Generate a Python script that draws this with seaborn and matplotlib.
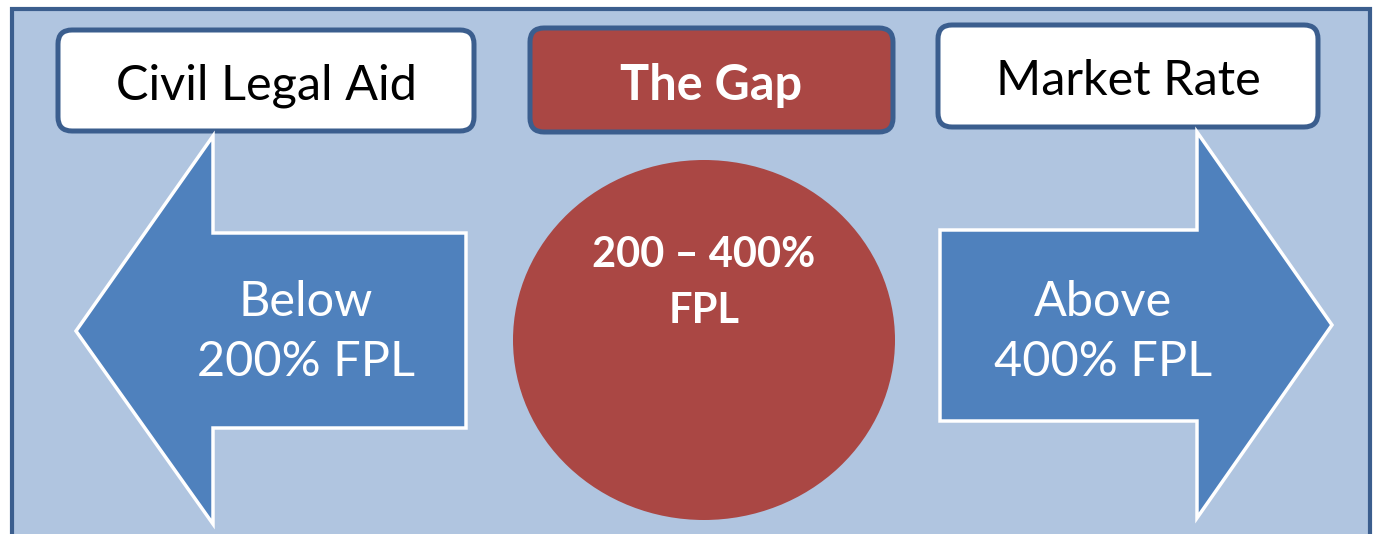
import matplotlib
matplotlib.use("Agg")
import matplotlib.pyplot as plt
import seaborn as sns
from matplotlib.patches import FancyBboxPatch, Polygon, Ellipse, Rectangle

# labels of the diagram
box_labels = ["Civil Legal Aid", "The Gap", "Market Rate"]
arrow_labels = ["Below\n200% FPL", "Above\n400% FPL"]
circle_label = "200 \u2013 400%\nFPL"

bg = "#b0c5e0"
edge = "#3b5e8e"
blue = "#4f81bd"
red = "#aa4744"

sns.set_theme(style="white")
plt.rcParams["font.family"] = ["Lato", "DejaVu Sans"]

fig = plt.figure(figsize=(13.77, 5.34), dpi=100)
ax = fig.add_axes([0, 0, 1, 1])
ax.set_xlim(0, 1377)
ax.set_ylim(534, 0)
ax.axis("off")

# outer frame
ax.add_patch(Rectangle((12, 9), 1358, 540, facecolor=bg, edgecolor=edge, lw=3))

# top boxes
boxes = [(58, 30, 416, 101, "white", "black", "normal"),
         (530, 28, 363, 104, red, "white", "bold"),
         (938, 25, 380, 102, "white", "black", "normal")]
for (x, y, w, h, fc, tc, fw), lab in zip(boxes, box_labels):
    ax.add_patch(FancyBboxPatch((x, y), w, h, boxstyle="round,pad=0,rounding_size=14",
                                facecolor=fc, edgecolor=edge, lw=3.6))
    ax.text(x + w / 2, y + h / 2 + 5, lab, ha="center", va="center",
            fontsize=35, color=tc, fontweight=fw)

# arrows
left = [(76, 331), (213, 136), (213, 233), (466, 233), (466, 428), (213, 428), (213, 524)]
right = [(1332, 325), (1197, 132), (1197, 230), (940, 230), (940, 421), (1197, 421), (1197, 518)]
for pts in (left, right):
    ax.add_patch(Polygon(pts, closed=True, facecolor=blue, edgecolor="white", lw=2.5,
                         joinstyle="miter"))

ax.text(306, 332, arrow_labels[0], ha="center", va="center", fontsize=35,
        color="white", linespacing=1.42)
ax.text(1103, 332, arrow_labels[1], ha="center", va="center", fontsize=35,
        color="white", linespacing=1.42)

# circle
ax.add_patch(Ellipse((704, 340), 382, 360, facecolor=red, edgecolor="none"))
ax.text(704, 283, circle_label, ha="center", va="center", fontsize=30,
        color="white", fontweight="bold", linespacing=1.6)

fig.savefig("out.png", dpi=100)
